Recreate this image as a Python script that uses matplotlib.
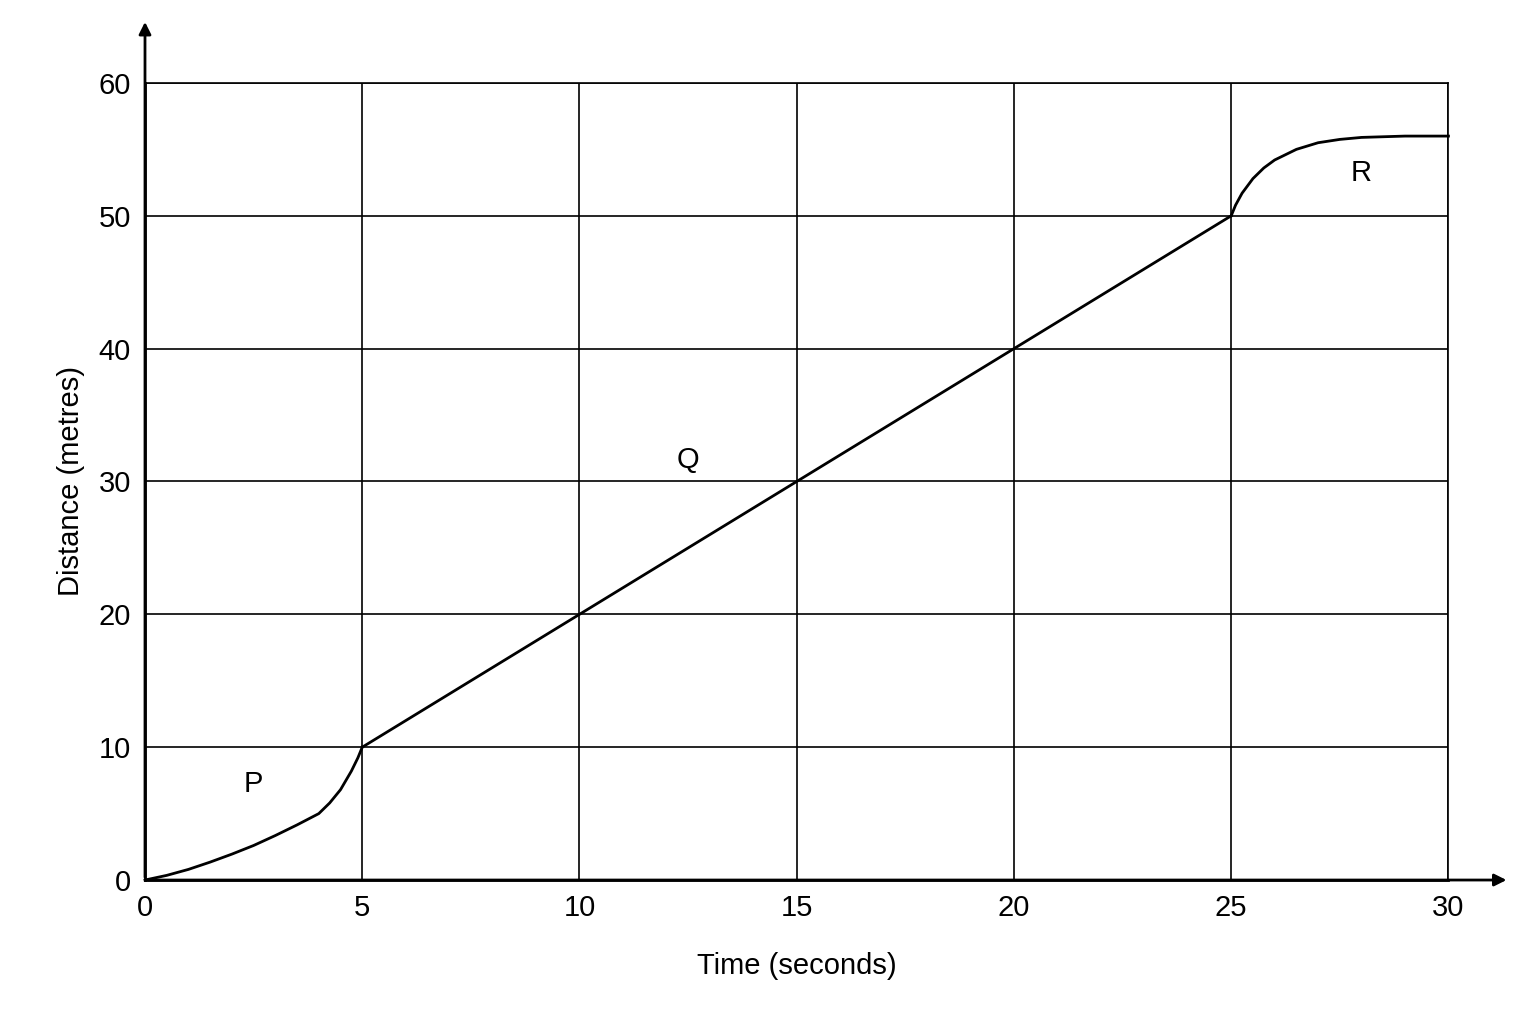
import matplotlib
matplotlib.use("Agg")
import matplotlib.pyplot as plt

plt.rcParams['font.family'] = ['Liberation Sans', 'DejaVu Sans']

p_x = [0, 0.5, 1, 1.5, 2, 2.5, 3, 3.5, 4, 4.25, 4.5, 4.75, 4.9, 5]
p_y = [0, 0.35, 0.8, 1.35, 1.95, 2.6, 3.35, 4.15, 5.0, 5.8, 6.8, 8.2, 9.2, 10]
q_x = [5, 25]
q_y = [10, 50]
r_x = [25, 25.1, 25.25, 25.5, 25.75, 26, 26.5, 27, 27.5, 28, 28.5, 29, 30]
r_y = [50, 50.8, 51.7, 52.8, 53.6, 54.2, 55.0, 55.5, 55.75, 55.9, 55.95, 56, 56]
labels = ["P", "Q", "R"]
label_x = [2.5, 12.5, 28]
label_y = [7.2, 31.6, 53.2]

fig = plt.figure(figsize=(15.36, 10.24), dpi=100)
ax = fig.add_axes([0.0944, 0.1406, 0.8486, 0.7784])
ax.set_xlim(0, 30)
ax.set_ylim(0, 60)
ax.set_xticks(range(0, 31, 5))
ax.set_yticks(range(0, 61, 10))
ax.grid(True, color="black", linewidth=1.2)
for s in ["top", "right"]:
    ax.spines[s].set_linewidth(1.2)
for s in ["left", "bottom"]:
    ax.spines[s].set_linewidth(2)
ax.tick_params(labelsize=21, length=0, pad=10)
for xs, ys in [(p_x, p_y), (q_x, q_y), (r_x, r_y)]:
    ax.plot(xs, ys, color="black", lw=2, clip_on=False, solid_joinstyle="round")
for t, lx, ly in zip(labels, label_x, label_y):
    ax.text(lx, ly, t, fontsize=21, ha="center", va="center")
ax.set_xlabel("Time (seconds)", fontsize=21, labelpad=22)
ax.set_ylabel("Distance (metres)", fontsize=21, labelpad=10)
ax.annotate("", xy=(0, 64.8), xytext=(0, 0), xycoords="data",
            arrowprops=dict(arrowstyle="-|>", color="black", lw=2, mutation_scale=18), annotation_clip=False)
ax.annotate("", xy=(31.4, 0), xytext=(0, 0), xycoords="data",
            arrowprops=dict(arrowstyle="-|>", color="black", lw=2, mutation_scale=18), annotation_clip=False)
fig.savefig("out.png", dpi=100)
